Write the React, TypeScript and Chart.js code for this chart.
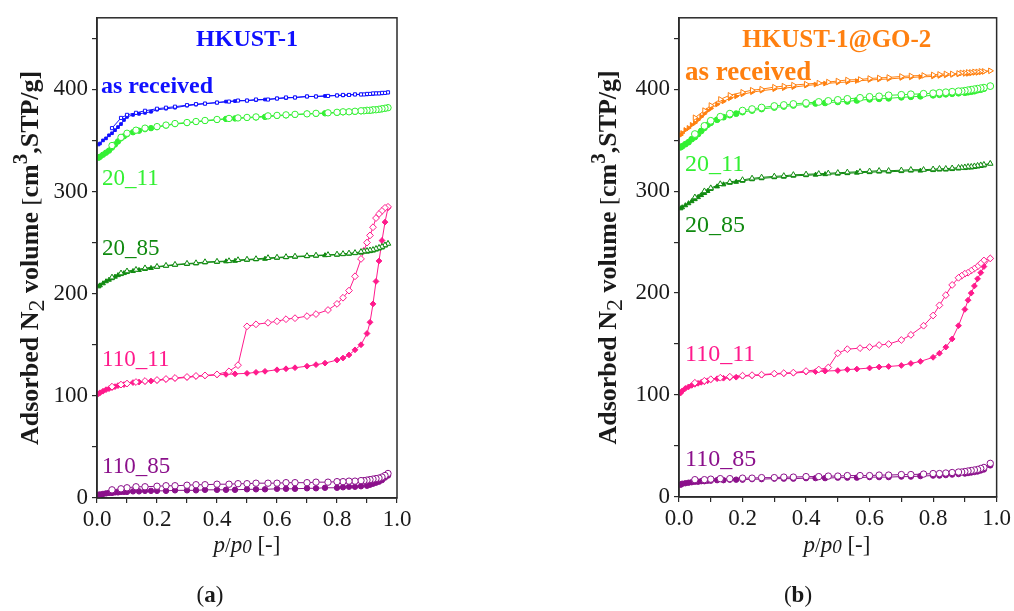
import React, { useEffect, useRef } from 'react';
import { Chart, registerables } from 'chart.js';

Chart.register(...registerables);

// ---------- pressures (p/p0) ----------
const P_ADS_A = [0.005, 0.01, 0.02, 0.03, 0.04, 0.05, 0.06, 0.07, 0.08, 0.09, 0.10, 0.12, 0.14, 0.16, 0.18, 0.20, 0.23, 0.26, 0.30, 0.33, 0.36, 0.40, 0.43, 0.46, 0.50, 0.53, 0.56, 0.60, 0.63, 0.66, 0.70, 0.73, 0.76, 0.80, 0.82, 0.84, 0.86, 0.88, 0.90, 0.91, 0.92, 0.93, 0.94, 0.95, 0.96, 0.97];
const P_DES_A = [0.97, 0.96, 0.95, 0.94, 0.93, 0.92, 0.91, 0.90, 0.89, 0.88, 0.86, 0.84, 0.82, 0.80, 0.77, 0.73, 0.70, 0.66, 0.63, 0.60, 0.57, 0.53, 0.50, 0.47, 0.44, 0.40, 0.36, 0.33, 0.30, 0.26, 0.23, 0.20, 0.16, 0.13, 0.10, 0.08, 0.05];
const P_ADS_B = [0.005, 0.01, 0.02, 0.03, 0.04, 0.05, 0.06, 0.07, 0.08, 0.09, 0.10, 0.12, 0.14, 0.16, 0.18, 0.20, 0.23, 0.26, 0.30, 0.33, 0.36, 0.40, 0.43, 0.46, 0.50, 0.53, 0.56, 0.60, 0.63, 0.66, 0.70, 0.73, 0.76, 0.80, 0.82, 0.84, 0.86, 0.88, 0.90, 0.91, 0.92, 0.93, 0.94, 0.95, 0.96, 0.98];
const P_DES_B = [0.98, 0.96, 0.95, 0.94, 0.93, 0.92, 0.91, 0.90, 0.89, 0.88, 0.86, 0.84, 0.82, 0.80, 0.77, 0.73, 0.70, 0.66, 0.63, 0.60, 0.57, 0.53, 0.50, 0.47, 0.44, 0.40, 0.36, 0.33, 0.30, 0.26, 0.23, 0.20, 0.16, 0.13, 0.10, 0.08, 0.05];

// ---------- panel (a): HKUST-1 ----------
const A_ASREC_ADS = [346, 347, 350, 352, 355, 357, 360, 363, 366, 370, 373, 375, 376, 377, 378, 380, 381, 382, 384, 385, 386, 387, 388, 388.5, 389, 389.5, 390, 391, 391.5, 392, 393, 393, 393.5, 394, 394, 394.5, 395, 395, 395, 395.5, 395.5, 396, 396, 396, 396.5, 397];
const A_ASREC_DES = [397, 396.5, 396.5, 396, 396, 396, 395.5, 395.5, 395, 395, 395, 394.5, 394.5, 394, 393.5, 393, 393, 392, 392, 391, 390, 390, 389, 389, 388, 387, 386, 385.5, 384.5, 383, 382, 381, 379, 377, 375, 372, 362];
const A_2011_ADS = [333, 334, 336, 338, 340, 343, 346, 349, 352, 354, 356, 358, 359.5, 361, 362, 363, 364.5, 366, 367, 368, 369, 370, 371, 371.5, 372, 372.5, 373, 374, 374.5, 375, 376, 376, 376.5, 377, 377.5, 378, 378, 378.5, 379, 379, 379.5, 380, 380, 380.5, 381, 382];
const A_2011_DES = [382, 381.5, 381, 380.5, 380, 380, 379.5, 379.5, 379, 379, 378.5, 378, 378, 377.5, 377, 376.5, 376, 375.5, 375, 374.5, 374, 373, 372.5, 372, 371.5, 370.5, 369.5, 368.5, 367.5, 366.5, 365, 363.5, 362, 360, 357, 353, 345];
const A_2085_ADS = [207, 208, 210, 212, 213.5, 215, 216.5, 218, 219, 220, 221, 222, 223, 224, 225, 226, 227, 228, 229, 229.5, 230.5, 231, 231.5, 232, 233, 233.5, 234, 235, 235.5, 236, 236.5, 237, 237.5, 238, 238.5, 239, 239.5, 240, 241, 241.5, 242, 243, 244, 245, 247, 249];
const A_2085_DES = [249, 247.5, 246, 245, 244, 243, 242.5, 242, 241.5, 241, 240, 239.5, 239, 238.5, 238, 237.5, 237, 236.5, 236, 235.5, 235, 234, 233.5, 233, 232, 231.5, 231, 230, 229.5, 228.5, 227.5, 226.5, 225, 223.5, 222, 220, 216];
const A_11011_ADS = [102, 103, 104.5, 106, 107, 108, 109, 110, 110.5, 111, 112, 113, 113.5, 114, 114.5, 115, 116, 117, 118, 119, 119.5, 120.5, 121, 121.5, 122, 123, 124, 125.5, 126.5, 127.5, 129, 130.5, 132, 135, 137, 140, 145, 150, 161, 172, 190, 212, 232, 252, 270, 284];
const A_11011_DES = [285, 284, 281, 278, 274, 265, 257, 250, 242, 234, 217, 203, 196, 190, 184, 180, 178, 176, 175, 173, 171.5, 170, 168, 130, 124, 121, 120, 119.5, 118.5, 117.5, 116.5, 115.5, 114.5, 113.5, 112, 111, 109];
const A_11085_ADS = [3, 3.5, 4, 4.5, 5, 5, 5.5, 5.5, 6, 6, 6, 6.5, 6.5, 7, 7, 7, 7, 7.5, 7.5, 7.5, 8, 8, 8, 8, 8.5, 8.5, 8.5, 9, 9, 9, 9.5, 9.5, 10, 10, 10.5, 11, 11, 11.5, 12, 13, 14, 15, 16, 17.5, 20, 22];
const A_11085_DES = [24, 22, 20.5, 19.5, 19, 18.5, 18, 17.5, 17, 17, 16.5, 16.5, 16, 16, 15.5, 15.5, 15, 15, 15, 14.5, 14.5, 14.5, 14, 14, 13.5, 13.5, 13, 13, 12.5, 12, 12, 11.5, 11, 11, 10, 9, 8];

// ---------- panel (b): HKUST-1@GO-2 ----------
const B_ASREC_ADS = [355, 357, 360, 362, 365, 367, 370, 373, 376, 379, 381, 385, 388, 391, 393, 395, 397, 398.5, 400, 401, 402, 403.5, 404.5, 405.5, 406.5, 407, 408, 409, 409.5, 410, 411, 411.5, 412, 412.5, 413, 413.5, 414, 414.5, 415, 415, 415.5, 416, 416, 416.5, 417, 418];
const B_ASREC_DES = [418, 417.5, 417.5, 417, 417, 416.5, 416.5, 416, 416, 415.5, 415, 415, 414.5, 414, 413.5, 413, 412.5, 411.5, 411, 410.5, 409.5, 409, 408, 407, 406, 405, 404, 403, 402, 400, 399, 397, 394, 390, 384, 379, 372];
const B_2011_ADS = [343, 344, 346, 348, 351, 353, 356, 359, 362, 365, 367, 370, 372.5, 374.5, 376, 377.5, 379, 380.5, 382, 383, 384, 385, 386, 386.5, 387.5, 388, 389, 390, 390.5, 391, 392, 392.5, 393, 394, 394.5, 395, 395.5, 396, 396.5, 397, 397.5, 398, 399, 399.5, 400.5, 403];
const B_2011_DES = [403, 401.5, 401, 400.5, 400, 399.5, 399, 398.5, 398, 398, 397.5, 397, 396.5, 396, 395.5, 395, 394.5, 394, 393, 392.5, 391.5, 390.5, 389.5, 388.5, 387.5, 386.5, 385.5, 384.5, 383.5, 382, 380.5, 379, 376, 373, 369, 364, 356];
const B_2085_ADS = [283, 284, 286, 288, 290, 292, 294, 296, 298, 300, 302, 304.5, 306.5, 308, 309, 310, 311.5, 312.5, 313.5, 314, 315, 315.5, 316, 316.5, 317, 317.5, 318, 318.5, 319, 319, 319.5, 320, 320, 320.5, 321, 321, 321.5, 322, 322.5, 323, 323, 323.5, 324, 324.5, 325, 327];
const B_2085_DES = [327, 326, 325.5, 325, 324.5, 324, 324, 323.5, 323, 323, 322.5, 322, 322, 321.5, 321, 321, 320.5, 320, 320, 319.5, 319, 318.5, 318, 317.5, 317, 316.5, 316, 315, 314.5, 313.5, 312.5, 311, 309, 307, 303, 300, 294];
const B_11011_ADS = [102, 104, 106.5, 108, 109.5, 110.5, 111.5, 112.5, 113, 114, 115, 116, 116.5, 117, 117.5, 118.5, 119, 119.5, 120.5, 121, 121.5, 122.5, 123, 123.5, 124, 125, 125.5, 126.5, 127.5, 128, 129, 131, 133, 137, 141, 147, 155, 168, 184, 193, 200, 207, 214, 220, 226, 234];
const B_11011_DES = [234, 232, 229, 226, 224, 222, 220, 219, 217, 215, 208, 198, 188, 178, 168, 159, 154, 150, 149, 147, 146, 145, 141, 127, 125, 123.5, 122, 121.5, 121, 120, 119.5, 119, 118, 117, 115.5, 114, 112];
const B_11085_ADS = [12, 13, 13.5, 14, 14.5, 15, 15, 15.5, 15.5, 16, 16, 16.5, 16.5, 17, 17, 17, 17.5, 17.5, 18, 18, 18, 18.5, 18.5, 18.5, 19, 19, 19, 19.5, 19.5, 19.5, 20, 20, 20.5, 21, 21, 21.5, 22, 22.5, 23, 23.5, 24, 24.5, 25, 26, 27, 31];
const B_11085_DES = [33, 29, 28, 27, 26.5, 26, 25.5, 25, 24.5, 24.5, 24, 23.5, 23, 23, 22.5, 22, 22, 21.5, 21.5, 21, 21, 21, 20.5, 20.5, 20, 20, 19.5, 19.5, 19, 19, 18.5, 18.5, 18, 18, 17.5, 17, 17];

// ---------- axes ----------
const X_TICKS = [0, 0.1, 0.2, 0.3, 0.4, 0.5, 0.6, 0.7, 0.8, 0.9, 1.0];
const Y_TICKS = [0, 50, 100, 150, 200, 250, 300, 350, 400, 450];
const SAMPLE_NAMES = ['as received', '20_11', '20_85', '110_11', '110_85'];
const TITLE_A = 'HKUST-1';
const TITLE_B = 'HKUST-1@GO-2';

// ---------- styles ----------
const SERIF = '"Liberation Serif", "Times New Roman", serif';
const BLUE = '#1010ff';
const ORANGE = '#ff8010';
const LIME = '#33f033';
const DKGREEN = '#108a10';
const PINK = '#ff1a8c';
const PURPLE = '#8b108b';
const AXIS = '#2a2a2a';

type Sample = { color: string; style: string; rot: number; r: number; ads: number[]; des: number[] };

const SAMPLES_A: Sample[] = [
  { color: BLUE, style: 'rect', rot: 0, r: 2.2, ads: A_ASREC_ADS, des: A_ASREC_DES },
  { color: LIME, style: 'circle', rot: 0, r: 3.2, ads: A_2011_ADS, des: A_2011_DES },
  { color: DKGREEN, style: 'triangle', rot: 0, r: 3.2, ads: A_2085_ADS, des: A_2085_DES },
  { color: PINK, style: 'rectRot', rot: 0, r: 3.4, ads: A_11011_ADS, des: A_11011_DES },
  { color: PURPLE, style: 'circle', rot: 0, r: 3.2, ads: A_11085_ADS, des: A_11085_DES },
];
const SAMPLES_B: Sample[] = [
  { color: ORANGE, style: 'triangle', rot: 90, r: 3.2, ads: B_ASREC_ADS, des: B_ASREC_DES },
  { color: LIME, style: 'circle', rot: 0, r: 3.4, ads: B_2011_ADS, des: B_2011_DES },
  { color: DKGREEN, style: 'triangle', rot: 0, r: 3.2, ads: B_2085_ADS, des: B_2085_DES },
  { color: PINK, style: 'rectRot', rot: 0, r: 3.4, ads: B_11011_ADS, des: B_11011_DES },
  { color: PURPLE, style: 'circle', rot: 0, r: 3.2, ads: B_11085_ADS, des: B_11085_DES },
];

// label anchors in data units (x = p/p0, y = volume), baseline positions
const LABEL_X_A = [0.013, 0.017, 0.017, 0.017, 0.017];
const LABEL_Y_A = [396, 306, 238, 129, 24];
const LABEL_X_B = [0.019, 0.019, 0.019, 0.019, 0.019];
const LABEL_Y_B = [409, 320, 260, 133, 30];

type Seg = { t: string; f: string; dy?: number };

function drawSegs(ctx: CanvasRenderingContext2D, segs: Seg[], cx: number, baseY: number, color: string) {
  let total = 0;
  for (const s of segs) { ctx.font = s.f; total += ctx.measureText(s.t).width; }
  let x = cx - total / 2;
  ctx.fillStyle = color;
  ctx.textAlign = 'left';
  ctx.textBaseline = 'alphabetic';
  for (const s of segs) {
    ctx.font = s.f;
    ctx.fillText(s.t, x, baseY + (s.dy || 0));
    x += ctx.measureText(s.t).width;
  }
}

type PanelCfg = {
  width: number;
  plotLeft: number;
  plotRight: number;
  plotTop: number;
  plotBottom: number;
  samples: Sample[];
  pAds: number[];
  pDes: number[];
  title: string;
  titleColor: string;
  titleX: number;
  titleY: number;
  titleSize: number;
  labelX: number[];
  labelY: number[];
  labelSize: number;
  asRecSize: number;
  yTitleX: number;
  xTitleX: number;
  captionX: number;
  caption: string;
};

const PANEL_A: PanelCfg = {
  width: 440, plotLeft: 97, plotRight: 397, plotTop: 16, plotBottom: 498,
  samples: SAMPLES_A, pAds: P_ADS_A, pDes: P_DES_A,
  title: TITLE_A, titleColor: BLUE, titleX: 0.5, titleY: 442, titleSize: 24,
  labelX: LABEL_X_A, labelY: LABEL_Y_A, labelSize: 23, asRecSize: 24,
  yTitleX: 38, xTitleX: 247, captionX: 210, caption: 'a',
};
const PANEL_B: PanelCfg = {
  width: 454, plotLeft: 119, plotRight: 439, plotTop: 16, plotBottom: 497,
  samples: SAMPLES_B, pAds: P_ADS_B, pDes: P_DES_B,
  title: TITLE_B, titleColor: ORANGE, titleX: 0.497, titleY: 441, titleSize: 25,
  labelX: LABEL_X_B, labelY: LABEL_Y_B, labelSize: 24, asRecSize: 27,
  yTitleX: 56, xTitleX: 277, captionX: 238, caption: 'b',
};

function Panel({ cfg, left }: { cfg: PanelCfg; left: number }) {
  const ref = useRef<HTMLCanvasElement | null>(null);
  useEffect(() => {
    if (!ref.current) return;
    const datasets: any[] = [];
    cfg.samples.forEach((s) => {
      // desorption (open markers) first so it is drawn on top
      datasets.push({
        data: cfg.pDes.map((x, i) => ({ x, y: s.des[i] })),
        borderColor: s.color, backgroundColor: '#ffffff',
        pointBackgroundColor: '#ffffff', pointBorderColor: s.color,
        pointStyle: s.style, pointRotation: s.rot, pointRadius: s.r, pointBorderWidth: 1,
        borderWidth: 1, tension: 0, fill: false,
      });
      datasets.push({
        data: cfg.pAds.map((x, i) => ({ x, y: s.ads[i] })),
        borderColor: s.color, backgroundColor: s.color,
        pointBackgroundColor: s.color, pointBorderColor: s.color,
        pointStyle: s.style, pointRotation: s.rot, pointRadius: s.r * 0.85, pointBorderWidth: 1,
        borderWidth: 1, tension: 0, fill: false,
      });
    });

    const deco = {
      id: 'deco',
      afterDatasetsDraw(chart: any) {
        const ctx: CanvasRenderingContext2D = chart.ctx;
        const a = chart.chartArea;
        const xs = chart.scales.x;
        const ys = chart.scales.y;
        ctx.save();
        ctx.strokeStyle = AXIS;
        ctx.lineWidth = 1.5;
        ctx.strokeRect(a.left, a.top, a.right - a.left, a.bottom - a.top);
        // panel title
        ctx.font = `bold ${cfg.titleSize}px ${SERIF}`;
        ctx.fillStyle = cfg.titleColor;
        ctx.textAlign = 'center';
        ctx.textBaseline = 'alphabetic';
        ctx.fillText(cfg.title, xs.getPixelForValue(cfg.titleX), ys.getPixelForValue(cfg.titleY));
        // sample labels
        ctx.textAlign = 'left';
        cfg.samples.forEach((s, i) => {
          ctx.font = i === 0 ? `bold ${cfg.asRecSize}px ${SERIF}` : `${cfg.labelSize}px ${SERIF}`;
          ctx.fillStyle = s.color;
          ctx.fillText(SAMPLE_NAMES[i], xs.getPixelForValue(cfg.labelX[i]), ys.getPixelForValue(cfg.labelY[i]));
        });
        ctx.restore();
      },
      afterDraw(chart: any) {
        const ctx: CanvasRenderingContext2D = chart.ctx;
        const a = chart.chartArea;
        ctx.save();
        // y axis title (rotated)
        ctx.translate(cfg.yTitleX, (a.top + a.bottom) / 2);
        ctx.rotate(-Math.PI / 2);
        const B = `bold 26px ${SERIF}`;
        drawSegs(ctx, [
          { t: 'Adsorbed N', f: B },
          { t: '2', f: `24px ${SERIF}`, dy: 6 },
          { t: ' volume ', f: B },
          { t: '[', f: `24px ${SERIF}` },
          { t: 'cm', f: B },
          { t: '3', f: `bold 21px ${SERIF}`, dy: -11 },
          { t: ',STP/g]', f: B },
        ], 0, 0, '#1a1a1a');
        ctx.restore();
        ctx.save();
        drawSegs(ctx, [
          { t: 'p', f: `italic 23px ${SERIF}` },
          { t: '/', f: `20px ${SERIF}` },
          { t: 'p', f: `italic 23px ${SERIF}` },
          { t: '0', f: `italic 19px ${SERIF}`, dy: 1 },
          { t: ' [-]', f: `23px ${SERIF}` },
        ], cfg.xTitleX, 552, '#1a1a1a');
        drawSegs(ctx, [
          { t: '(', f: `23px ${SERIF}` },
          { t: cfg.caption, f: `bold 23px ${SERIF}` },
          { t: ')', f: `23px ${SERIF}` },
        ], cfg.captionX, 602, '#1a1a1a');
        ctx.restore();
      },
    };

    const tickFont = { family: SERIF, size: 23 };
    const chart = new Chart(ref.current, {
      type: 'line',
      data: { datasets },
      options: {
        responsive: false,
        maintainAspectRatio: false,
        animation: false,
        layout: { padding: { left: 0, top: cfg.plotTop, right: cfg.width - cfg.plotRight, bottom: 0 } },
        plugins: { legend: { display: false }, tooltip: { enabled: false }, title: { display: false } },
        scales: {
          x: {
            type: 'linear', min: 0, max: 1,
            afterBuildTicks: (s: any) => { s.ticks = X_TICKS.map((v) => ({ value: v })); },
            afterFit: (s: any) => { s.height = 611 - cfg.plotBottom; },
            ticks: {
              autoSkip: false, maxRotation: 0, padding: 3, color: '#1a1a1a', font: tickFont,
              callback: (v: any) => (Math.round(Number(v) * 10) % 2 === 0 ? Number(v).toFixed(1) : ''),
            },
            grid: { drawOnChartArea: false, drawTicks: true, tickLength: 5, color: AXIS, lineWidth: 1.2 },
            border: { display: true, color: AXIS, width: 1.5 },
          },
          y: {
            type: 'linear', min: 0, max: 470,
            afterBuildTicks: (s: any) => { s.ticks = Y_TICKS.map((v) => ({ value: v })); },
            afterFit: (s: any) => { s.width = cfg.plotLeft; },
            ticks: {
              autoSkip: false, padding: 4, color: '#1a1a1a', font: tickFont,
              callback: (v: any) => (Math.round(Number(v)) % 100 === 0 ? String(v) : ''),
            },
            grid: { drawOnChartArea: false, drawTicks: true, tickLength: 5, color: AXIS, lineWidth: 1.2 },
            border: { display: true, color: AXIS, width: 1.5 },
          },
        },
      } as any,
      plugins: [deco],
    });
    return () => chart.destroy();
  }, [cfg]);
  return (
    <canvas
      ref={ref}
      width={cfg.width}
      height={611}
      style={{ position: 'absolute', left, top: 0, width: cfg.width, height: 611 }}
    />
  );
}

export default function App() {
  return (
    <div style={{ position: 'fixed', left: 0, top: 0, width: 1014, height: 611, background: '#ffffff', overflow: 'hidden' }}>
      <Panel cfg={PANEL_A} left={0} />
      <Panel cfg={PANEL_B} left={560} />
    </div>
  );
}
